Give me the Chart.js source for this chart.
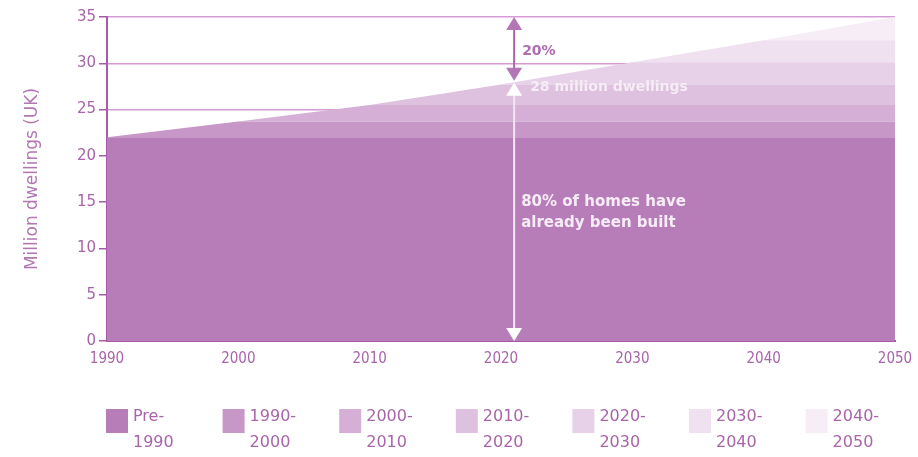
<!DOCTYPE html>
<html>
<head>
<meta charset="utf-8">
<script src="https://cdn.jsdelivr.net/npm/chart.js@4/dist/chart.umd.min.js"></script>
<style>
  html, body { margin: 0; padding: 0; background: #fff; }
  #wrap { width: 918px; height: 457px; position: relative; }
</style>
</head>
<body>
<div id="wrap"><canvas id="chart" width="918" height="457"></canvas></div>
<script>
// Years on the x axis
const years = [1990, 2000, 2010, 2020, 2030, 2040, 2050];

// Dwellings by build period (million), stacked
const periods = ['Pre-1990', '1990-2000', '2000-2010', '2010-2020', '2020-2030', '2030-2040', '2040-2050'];
const pre1990   = [22, 22, 22, 22, 22, 22, 22];
const built1990s = [0, 1.7, 1.7, 1.7, 1.7, 1.7, 1.7];
const built2000s = [0, 0, 1.8, 1.8, 1.8, 1.8, 1.8];
const built2010s = [0, 0, 0, 2.2, 2.2, 2.2, 2.2];
const built2020s = [0, 0, 0, 0, 2.4, 2.4, 2.4];
const built2030s = [0, 0, 0, 0, 0, 2.4, 2.4];
const built2040s = [0, 0, 0, 0, 0, 0, 2.5];
const seriesValues = [pre1990, built1990s, built2000s, built2010s, built2020s, built2030s, built2040s];

const colours = ['#b77db8', '#c797c8', '#d5afd6', '#dec1df', '#e7d1e8', '#efe1f0', '#f6edf6'];

// Annotation values
const markerYear = 2021;
const stockTop = 35;
const stockNow = 28;

const purple = '#a964aa';
const fontFamily = '"DejaVu Sans", sans-serif';
const narrowFont = '"Liberation Sans Narrow", "DejaVu Sans Condensed", sans-serif';

const datasets = seriesValues.map((vals, i) => ({
    label: periods[i],
    data: vals.map((v, j) => ({ x: years[j], y: v })),
    backgroundColor: colours[i],
    borderWidth: 0,
    pointRadius: 0,
    fill: i === 0 ? 'origin' : '-1',
    tension: 0
}));

function arrowHead(ctx, x, y, dir, colour) {
    // dir: -1 points up, 1 points down; (x, y) is the tip
    ctx.fillStyle = colour;
    ctx.beginPath();
    ctx.moveTo(x, y);
    ctx.lineTo(x - 8, y - dir * 13);
    ctx.lineTo(x + 8, y - dir * 13);
    ctx.closePath();
    ctx.fill();
}

const annotations = {
    id: 'annotations',
    afterDatasetsDraw(chart) {
        const ctx = chart.ctx;
        const xs = chart.scales.x, ys = chart.scales.y;
        const x = xs.getPixelForValue(markerYear);
        const yTop = ys.getPixelForValue(stockTop);
        const yNow = ys.getPixelForValue(stockNow);
        const yZero = ys.getPixelForValue(0);
        ctx.save();
        // upper purple arrow (20%)
        ctx.strokeStyle = purple;
        ctx.lineWidth = 2;
        ctx.beginPath();
        ctx.moveTo(x, yTop + 10);
        ctx.lineTo(x, yNow - 10);
        ctx.stroke();
        arrowHead(ctx, x, yTop, -1, '#b477b5');
        arrowHead(ctx, x, yNow - 1, 1, '#b477b5');
        // lower white arrow (80%)
        ctx.strokeStyle = '#f3e6f3';
        ctx.beginPath();
        ctx.moveTo(x, yNow + 10);
        ctx.lineTo(x, yZero - 10);
        ctx.stroke();
        arrowHead(ctx, x, yNow + 1, -1, '#ffffff');
        arrowHead(ctx, x, yZero, 1, '#ffffff');

        ctx.textBaseline = 'middle';
        ctx.textAlign = 'left';
        ctx.font = 'bold 14px ' + fontFamily;
        ctx.fillStyle = '#b06db1';
        ctx.fillText('20%', x + 8, ys.getPixelForValue(31.3));
        ctx.fillStyle = '#f6ecf6';
        ctx.fillText('28 million dwellings', x + 16, ys.getPixelForValue(27.4));
        ctx.font = 'bold 15px ' + fontFamily;
        ctx.fillText('80% of homes have', x + 7, ys.getPixelForValue(15.0));
        ctx.fillText('already been built', x + 7, ys.getPixelForValue(12.7));
        ctx.restore();
    }
};

const boxLegend = {
    id: 'boxLegend',
    afterDraw(chart) {
        const ctx = chart.ctx;
        ctx.save();
        ctx.font = '16px ' + fontFamily;
        ctx.textBaseline = 'middle';
        ctx.textAlign = 'left';
        periods.forEach((p, i) => {
            const bx = 106 + i * 116.6;
            const by = 409;
            ctx.fillStyle = colours[i];
            ctx.fillRect(bx, by, 22, 24);
            const cut = p.indexOf('-') + 1;
            ctx.fillStyle = purple;
            ctx.fillText(p.slice(0, cut), bx + 27, by + 8);
            ctx.fillText(p.slice(cut), bx + 27, by + 34);
        });
        ctx.restore();
    }
};

new Chart(document.getElementById('chart'), {
    type: 'line',
    data: { datasets },
    options: {
        responsive: false,
        animation: false,
        layout: { padding: { left: 0, right: 23, top: 17, bottom: 91 } },
        plugins: { legend: { display: false }, tooltip: { enabled: false } },
        scales: {
            x: {
                type: 'linear',
                min: 1990,
                max: 2050,
                z: 1,
                ticks: { stepSize: 10, color: purple, font: { family: narrowFont, size: 15 }, padding: 1, maxRotation: 0,
                    callback: v => String(v) },
                grid: { display: false },
                border: { color: '#a75aa8', width: 2 },
                afterFit: s => { s.height = 25; }
            },
            y: {
                stacked: true,
                min: 0,
                max: 35,
                ticks: { stepSize: 5, color: purple, font: { family: fontFamily, size: 15 }, padding: 3 },
                grid: { color: '#d69ad6', lineWidth: 1.5, tickColor: '#a75aa8', tickLength: 8 },
                border: { color: '#a75aa8', width: 2 },
                title: { display: true, text: 'Million dwellings (UK)', color: '#b277b3',
                    font: { family: fontFamily, size: 17 }, padding: { top: 22, bottom: 0 } },
                afterFit: s => { s.width = 107; }
            }
        }
    },
    plugins: [annotations, boxLegend]
});
</script>
</body>
</html>
